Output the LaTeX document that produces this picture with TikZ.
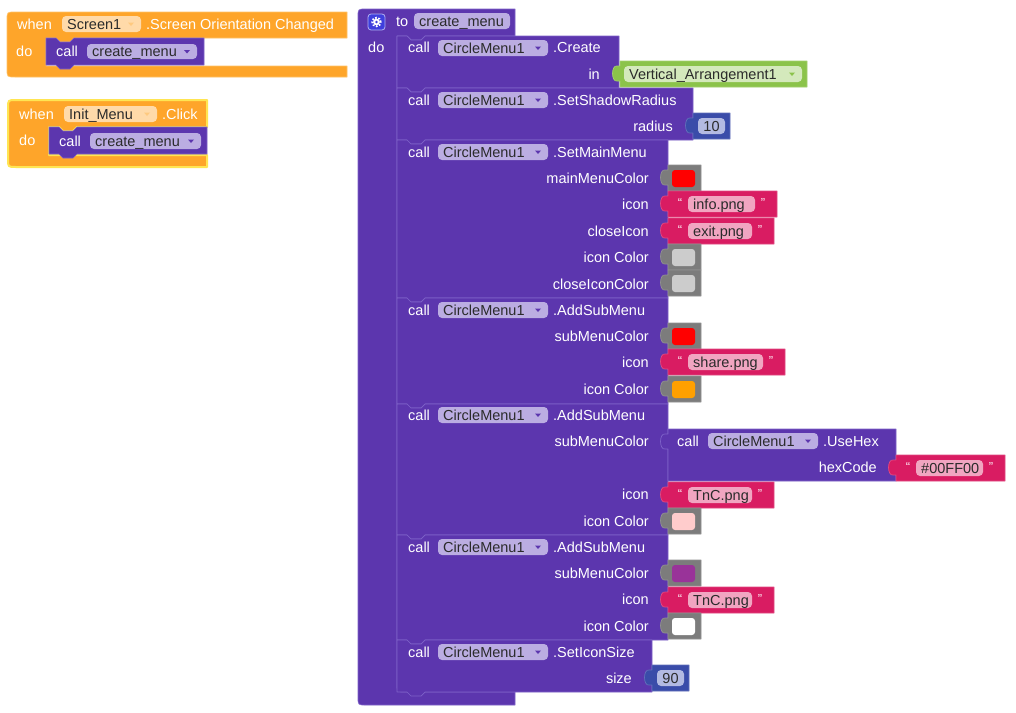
\documentclass[tikz,border=0pt]{standalone}
\usepackage{fontspec}
\setmainfont{Liberation Sans}
\definecolor{proc}{HTML}{5C36AE}
\definecolor{procline}{HTML}{7E62C8}
\definecolor{procpill}{HTML}{BBADE2}
\definecolor{evt}{HTML}{FEA52A}
\definecolor{evtline}{HTML}{FFC266}
\definecolor{evtpill}{HTML}{FFDAA9}
\definecolor{sel}{HTML}{FFE552}
\definecolor{grn}{HTML}{8BC34A}
\definecolor{grnpill}{HTML}{D4E9BC}
\definecolor{mth}{HTML}{3A4CA9}
\definecolor{mthpill}{HTML}{B3BAE2}
\definecolor{strc}{HTML}{D91C62}
\definecolor{strpill}{HTML}{F1A5C1}
\definecolor{gry}{HTML}{7C7C7C}
\definecolor{gearc}{HTML}{3F3FDD}
\definecolor{ptext}{HTML}{2B2B2B}
\definecolor{swred}{HTML}{FF0000}
\definecolor{swgray}{HTML}{CCCCCC}
\definecolor{sworange}{HTML}{FFA000}
\definecolor{swpink}{HTML}{FFCCCC}
\definecolor{swpurple}{HTML}{993399}
\tikzset{
  stmt/.style={fill=proc, draw=procline, line width=0.7pt, line join=round},
  evtblk/.style={fill=evt, draw=evtline, line width=0.7pt, line join=round},
  grnblk/.style={fill=grn, draw=grn!80!white, line width=0.7pt, line join=round},
  mthblk/.style={fill=mth, draw=mth!80!white, line width=0.7pt, line join=round},
  strblk/.style={fill=strc, draw=strc!80!white, line width=0.7pt, line join=round},
  gryblk/.style={fill=gry, draw=gry!85!white, line width=0.7pt, line join=round},
  lbl/.style={text=white, inner sep=0pt, anchor=base west, font=\fontsize{14.5}{16}\selectfont},
  lblr/.style={lbl, anchor=base east},
  ptx/.style={text=ptext, inner sep=0pt, anchor=base west, font=\fontsize{14.5}{16}\selectfont},
  ptxc/.style={ptx, anchor=base},
  qt/.style={text=white!92!strc, inner sep=0pt, font=\fontsize{13}{13}\selectfont},
}
% statement block: L T R B
\newcommand\stmtblk[4]{%
  \draw[stmt] (#1,#2) -- ({#1+10},#2) -- ({#1+14},{#2+4}) -- ({#1+24},{#2+4}) -- ({#1+28},#2)
    -- (#3,#2) -- (#3,#4) -- ({#1+28},#4) -- ({#1+24},{#4+4}) -- ({#1+14},{#4+4}) -- ({#1+10},#4)
    -- (#1,#4) -- cycle;}
% value block: style L T R B
\newcommand\valblk[5]{%
  \draw[#1] (#2,#3) -- ({#4},#3) -- ({#4},{#5}) -- (#2,{#5}) -- (#2,{#3+20})
    -- ({#2-3},{#3+20}) .. controls ({#2-9},{#3+21}) and ({#2-9},{#3+4}) .. ({#2-3},{#3+5}) -- (#2,{#3+5}) -- cycle;}
% dropdown pill: x1 y1 x2 y2 fill arrow text name
\newcommand\ddpill[8]{%
  \fill[#5, rounded corners=4pt] (#1,#2) rectangle (#3,#4);
  \node[ptx] (#8) at ({#1+5},{(#2+#4)/2+5}) {#7};
  \fill[#6] ({#3-13},{(#2+#4)/2-1.5}) -- ({#3-7},{(#2+#4)/2-1.5}) -- ({#3-10},{(#2+#4)/2+2}) -- cycle;}
% swatch block: L T colour name
\newcommand\swblk[4]{%
  \valblk{gryblk}{#1}{#2}{#1+33}{#2+26}
  \fill[#3, rounded corners=3pt] ({#1+4},{#2+5}) rectangle ({#1+27},{#2+22});
  \coordinate (#4) at ({#1+16},{#2+13});}
% string block: L T R pillR text name
\newcommand\stblk[6]{%
  \valblk{strblk}{#1}{#2}{#3}{#2+26}
  \fill[strpill, rounded corners=4pt] ({#1+20},{#2+5}) rectangle (#4,{#2+21});
  \node[ptx] (#6) at ({#1+25},{#2+18}) {#5};
  \node[qt] (#6-l) at ({#1+12},{#2+12}) {“};
  \node[qt] (#6-r) at ({#4+8},{#2+12}) {”};}
\begin{document}
\begin{tikzpicture}[x=1pt,y=-1pt]
\useasboundingbox (0,0) rectangle (1016,712);
\fill[white] (0,0) rectangle (1016,712);

% ---------- event 1 ----------
\draw[evtblk] (347,77) -- (15,77) .. controls (7,77) .. (7,69) -- (7,20) .. controls (7,12) .. (15,12)
  -- (347,12) -- (347,38) -- (74,38) -- (70,42) -- (60,42) -- (56,38) -- (46,38) -- (46,66) -- (347,66) -- cycle;
\node[lbl] (w1) at (17,29) {when};
\ddpill{62}{16}{141}{32}{evtpill}{evt!60!white}{Screen1}{scr1}
\node[lbl] (ev1) at (146,29) {.Screen Orientation Changed};
\node[lbl] (do1) at (16,56) {do};
\stmtblk{46}{38}{204}{65}
\node[lbl] (c1) at (56,56) {call};
\ddpill{87}{44}{197}{59}{procpill}{proc}{create\_menu}{cm1}

% ---------- event 2 (selected) ----------
\draw[evtblk, draw=sel, line width=2pt] (207,167) -- (16,167) .. controls (8,167) .. (8,159) -- (8,108) .. controls (8,100) .. (16,100)
  -- (207,100) -- (207,127) -- (77,127) -- (73,131) -- (63,131) -- (59,127) -- (49,127) -- (49,155) -- (207,155) -- cycle;
\node[lbl] (w2) at (19,119) {when};
\ddpill{64}{106}{157}{122}{evtpill}{evt!60!white}{Init\_Menu}{im}
\node[lbl] (ev2) at (162,119) {.Click};
\node[lbl] (do2) at (19,145) {do};
\stmtblk{49}{127}{207}{154}
\node[lbl] (c2) at (59,146) {call};
\ddpill{90}{133}{201}{149}{procpill}{proc}{create\_menu}{cm2}

% ---------- procedure ----------
\draw[stmt] (515,705) -- (366,705) .. controls (358,705) .. (358,697) -- (358,17) .. controls (358,9) .. (366,9)
  -- (515,9) -- (515,36) -- (425,36) -- (421,40) -- (411,40) -- (407,36) -- (397,36)
  -- (397,684) .. controls (397,692) .. (405,692) -- (515,692) -- cycle;
\draw[fill=gearc, draw=white!60!gearc, rounded corners=3pt, line width=0.8pt] (368,14) rectangle (385,30);
\fill[white] (376.5,22) circle[radius=3.4pt];
\draw[white, line width=1.8pt, dash pattern=on 1.6pt off 1.6pt] (376.5,22) circle[radius=4.3pt];
\fill[gearc] (376.5,22) circle[radius=1.4pt];
\node[lbl] (to) at (396,26) {to};
\fill[procpill, rounded corners=4pt] (414,13) rectangle (510,29);
\node[ptx] (pname) at (419,26) {create\_menu};
\node[lbl] (pdo) at (368,52) {do};

% S1 Create
\stmtblk{397}{36}{619}{88}
\node[lbl] (s1c) at (408,52) {call};
\ddpill{438}{40}{548}{56}{procpill}{proc}{CircleMenu1}{s1p}
\node[lbl] (s1m) at (553,52) {.Create};
\node[lblr] (s1in) at (600,79) {in};
\valblk{grnblk}{620}{61}{807}{87}
\ddpill{624}{66}{802}{82}{grnpill}{grn}{Vertical\_Arrangement1}{va}

% S2 SetShadowRadius
\stmtblk{397}{88}{693}{140}
\node[lbl] (s2c) at (408,105) {call};
\ddpill{438}{92}{548}{108}{procpill}{proc}{CircleMenu1}{s2p}
\node[lbl] (s2m) at (553,105) {.SetShadowRadius};
\node[lblr] (s2r) at (673,131) {radius};
\valblk{mthblk}{693}{113}{730}{139}
\fill[mthpill, rounded corners=4pt] (698,118) rectangle (725,134);
\node[ptxc] (n10) at (711.5,131) {10};

% S3 SetMainMenu
\stmtblk{397}{140}{668}{298}
\node[lbl] (s3c) at (408,157) {call};
\ddpill{438}{144}{548}{160}{procpill}{proc}{CircleMenu1}{s3p}
\node[lbl] (s3m) at (553,157) {.SetMainMenu};
\node[lblr] (s3a) at (649,183) {mainMenuColor};
\node[lblr] (s3b) at (649,209) {icon};
\node[lblr] (s3d) at (649,236) {closeIcon};
\node[lblr] (s3e) at (649,262) {icon Color};
\node[lblr] (s3f) at (649,289) {closeIconColor};
\swblk{668}{165}{swred}{sw1}
\stblk{668}{191}{777}{755}{info.png}{t1}
\stblk{668}{218}{774}{752}{exit.png}{t2}
\swblk{668}{244}{swgray}{sw2}
\swblk{668}{270}{swgray}{sw3}

% S4 AddSubMenu
\stmtblk{397}{298}{668}{404}
\node[lbl] (s4c) at (408,315) {call};
\ddpill{438}{302}{548}{318}{procpill}{proc}{CircleMenu1}{s4p}
\node[lbl] (s4m) at (553,315) {.AddSubMenu};
\node[lblr] (s4a) at (649,341) {subMenuColor};
\node[lblr] (s4b) at (649,367) {icon};
\node[lblr] (s4d) at (649,394) {icon Color};
\swblk{668}{323}{swred}{sw4}
\stblk{668}{349}{785}{763}{share.png}{t3}
\swblk{668}{376}{sworange}{sw5}

% S5 AddSubMenu with UseHex
\stmtblk{397}{404}{668}{535}
\node[lbl] (s5c) at (408,420) {call};
\ddpill{438}{407}{548}{423}{procpill}{proc}{CircleMenu1}{s5p}
\node[lbl] (s5m) at (553,420) {.AddSubMenu};
\node[lblr] (s5a) at (649,446) {subMenuColor};
\valblk{stmt}{668}{429}{896}{481}
\node[lbl] (uhc) at (677,446) {call};
\ddpill{708}{433}{818}{449}{procpill}{proc}{CircleMenu1}{uhp}
\node[lbl] (uhm) at (823,446) {.UseHex};
\node[lblr] (uhh) at (877,472) {hexCode};
\stblk{896}{455}{1005}{983}{\#00FF00}{t4}
\node[lblr] (s5b) at (649,499) {icon};
\node[lblr] (s5d) at (649,526) {icon Color};
\stblk{668}{482}{774}{752}{TnC.png}{t5}
\swblk{668}{508}{swpink}{sw6}

% S6 AddSubMenu
\stmtblk{397}{535}{668}{640}
\node[lbl] (s6c) at (408,552) {call};
\ddpill{438}{539}{548}{555}{procpill}{proc}{CircleMenu1}{s6p}
\node[lbl] (s6m) at (553,552) {.AddSubMenu};
\node[lblr] (s6a) at (649,578) {subMenuColor};
\node[lblr] (s6b) at (649,604) {icon};
\node[lblr] (s6d) at (649,631) {icon Color};
\swblk{668}{560}{swpurple}{sw7}
\stblk{668}{587}{774}{752}{TnC.png}{t6}
\swblk{668}{613}{white}{sw8}

% S7 SetIconSize
\stmtblk{397}{640}{652}{692}
\node[lbl] (s7c) at (408,657) {call};
\ddpill{438}{644}{548}{660}{procpill}{proc}{CircleMenu1}{s7p}
\node[lbl] (s7m) at (553,657) {.SetIconSize};
\node[lblr] (s7s) at (632,683) {size};
\valblk{mthblk}{652}{665}{689}{691}
\fill[mthpill, rounded corners=4pt] (657,670) rectangle (684,686);
\node[ptxc] (n90) at (670.5,683) {90};
\end{tikzpicture}
\end{document}
